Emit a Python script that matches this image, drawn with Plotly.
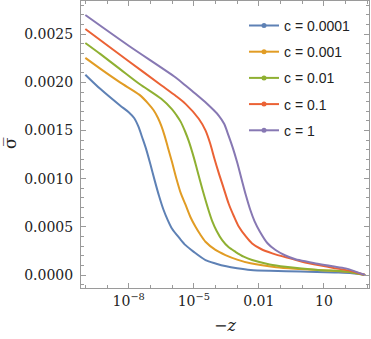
"""Sigma-bar versus -z for several values of c (log x axis)."""

import plotly.graph_objects as go

# log10(-z) sample positions and sigma-bar values
logz_c0001 = [-10.0, -9.3, -8.4, -8.0, -7.75, -7.55, -7.38, -7.2, -7.0, -6.8, -6.6,
              -6.4, -6.2, -6.0, -5.65, -5.38, -5.0, -4.46, -4.0, -3.5, -3.0, -2.38,
              -1.5, -0.08, 1.5, 2.3, 2.9]
sig_c0001 = [0.00208, 0.00193, 0.00176, 0.00169, 0.00163, 0.00154, 0.00143, 0.00131,
             0.00115, 0.00098, 0.00082, 0.00068, 0.00057, 0.00048, 0.00038, 0.00031,
             0.00024, 0.000155, 0.00012, 0.00009, 0.00007, 0.000052, 0.000043,
             0.000036, 0.000026, 0.000018, 0.0]

logz_c001 = [-10.0, -9.3, -8.4, -7.5, -7.1, -6.85, -6.65, -6.5, -6.35, -6.2, -6.0,
             -5.8, -5.6, -5.38, -5.15, -4.92, -4.7, -4.46, -4.0, -3.54, -3.0, -2.38,
             -1.2, -0.08, 1.54, 2.3, 2.9]
sig_c001 = [0.002254, 0.00214, 0.002, 0.00187, 0.00178, 0.00171, 0.00163, 0.00155,
            0.00145, 0.00133, 0.00117, 0.001, 0.00085, 0.00073, 0.0006, 0.0005, 0.00042,
            0.000345, 0.00026, 0.000207, 0.00016, 0.000121, 0.00008, 0.000062,
            0.000041, 0.000028, 0.0]

logz_c01 = [-10.0, -9.3, -8.4, -7.5, -6.5, -6.0, -5.8, -5.6, -5.4, -5.23, -5.05, -4.9,
            -4.7, -4.5, -4.3, -4.15, -3.95, -3.69, -3.4, -3.08, -2.7, -2.31, -1.5,
            -0.77, 0.75, 2.0, 2.9]
sig_c01 = [0.002409, 0.002293, 0.002138, 0.001983, 0.001829, 0.00172, 0.00166, 0.00159,
           0.00149, 0.00139, 0.00126, 0.00114, 0.00097, 0.00081, 0.00066, 0.00056,
           0.00046, 0.000362, 0.00029, 0.000241, 0.00019, 0.000155, 0.00011, 0.000086,
           0.000052, 0.000036, 0.0]

logz_c1 = [-10.0, -8.0, -6.5, -5.85, -5.38, -4.77, -4.46, -4.25, -4.05, -3.85, -3.62,
           -3.39, -3.15, -2.92, -2.6, -2.31, -1.9, -1.38, -0.7, 0.0, 0.8, 1.5, 2.2, 2.9]
sig_c1 = [0.002554, 0.00222, 0.00197, 0.001863, 0.001777, 0.001622, 0.001501, 0.00137,
          0.00121, 0.00106, 0.0009, 0.00074, 0.00061, 0.0005, 0.0004, 0.000328, 0.00027,
          0.000225, 0.00018, 0.000138, 0.0001, 0.00007, 0.000045, 0.0]

logz_c10 = [-10.0, -8.0, -5.85, -5.38, -4.92, -4.4, -3.85, -3.6, -3.4, -3.2, -3.0,
            -2.8, -2.6, -2.4, -2.2, -1.95, -1.6, -1.23, -0.8, -0.31, 0.3, 0.77, 1.4,
            2.0, 2.9]
sig_c10 = [0.002699, 0.00238, 0.002053, 0.001967, 0.001881, 0.00178, 0.001656, 0.00157,
           0.00145, 0.00132, 0.00117, 0.001, 0.00083, 0.00068, 0.00056, 0.00045,
           0.00033, 0.000259, 0.000205, 0.000163, 0.000135, 0.000114, 0.00009,
           0.000069, 0.0]

labels = ["c = 0.0001", "c = 0.001", "c = 0.01", "c = 0.1", "c = 1"]
colors = ["#5E81B5", "#E19C24", "#8FB032", "#EB6235", "#8778B3"]

x_tickvals = [1e-8, 1e-5, 1e-2, 10]
x_ticktext = ["10<sup>\u22128</sup>", "10<sup>\u22125</sup>", "0.01", "10"]
x_minor = [10.0 ** k for k in range(-10, 4)]
y_tickvals = [0.0, 0.0005, 0.001, 0.0015, 0.002, 0.0025]
y_ticktext = ["0.0000", "0.0005", "0.0010", "0.0015", "0.0020", "0.0025"]

series = [
    (logz_c0001, sig_c0001),
    (logz_c001, sig_c001),
    (logz_c01, sig_c01),
    (logz_c1, sig_c1),
    (logz_c10, sig_c10),
]

fig = go.Figure()
for (lz, sig), color in zip(series, colors):
    fig.add_trace(go.Scatter(
        x=[10.0 ** v for v in lz], y=sig, mode="lines",
        line=dict(color=color, width=2, shape="spline", smoothing=0.8),
        showlegend=False, hoverinfo="skip",
    ))

# legend-only entries (line with a dot, as in the original)
for name, color in zip(labels, colors):
    fig.add_trace(go.Scatter(
        x=[None], y=[None], mode="lines+markers", name=name, legendgroup=name,
        line=dict(color=color, width=2), marker=dict(color=color, size=5),
    ))

frame = "#9a9a9a"
serif = "DejaVu Serif"
ink = "#222"

fig.update_layout(
    width=371, height=339,
    margin=dict(l=81, r=2, t=1, b=51, autoexpand=False),
    paper_bgcolor="white", plot_bgcolor="white",
    font=dict(family=serif, size=14, color=ink),
    legend=dict(
        x=0.566, y=0.969, xanchor="left", yanchor="top",
        bgcolor="rgba(0,0,0,0)", tracegroupgap=5,
        font=dict(family="Liberation Sans", size=14, color=ink),
    ),
    xaxis=dict(
        type="log", range=[-10.2, 3.08], automargin=False,
        showgrid=False, zeroline=False,
        showline=True, linecolor=frame, linewidth=1, mirror="ticks",
        ticks="inside", ticklen=5, tickcolor=frame,
        tickvals=x_tickvals, ticktext=x_ticktext,
        tickfont=dict(family=serif, size=14, color=ink),
        minor=dict(tickvals=x_minor, ticks="inside", ticklen=3, tickcolor=frame),
    ),
    yaxis=dict(
        range=[-0.000135, 0.002845], automargin=False,
        showgrid=False, zeroline=False,
        showline=True, linecolor=frame, linewidth=1, mirror="ticks",
        ticks="inside", ticklen=5, tickcolor=frame,
        tickvals=y_tickvals, ticktext=y_ticktext,
        tickfont=dict(family=serif, size=14, color=ink),
        ticklabelstandoff=4,
        minor=dict(dtick=0.0001, ticks="inside", ticklen=3, tickcolor=frame),
    ),
    annotations=[
        dict(text="\u2212<i>z</i>", xref="paper", yref="paper", x=0.5, y=0,
             xanchor="center", yanchor="middle", yshift=-37, showarrow=False,
             font=dict(family=serif, size=16, color=ink)),
        dict(text="\u03c3\u0305", xref="paper", yref="paper", x=0, y=0.505,
             xanchor="center", yanchor="middle", xshift=-71, textangle=-90,
             showarrow=False, font=dict(family=serif, size=17, color=ink)),
    ],
)

# drop the default body margin so the figure sits at the page origin
fig.write_html("out.html", config={"displayModeBar": False},
               post_script="document.body.style.margin='0';")
